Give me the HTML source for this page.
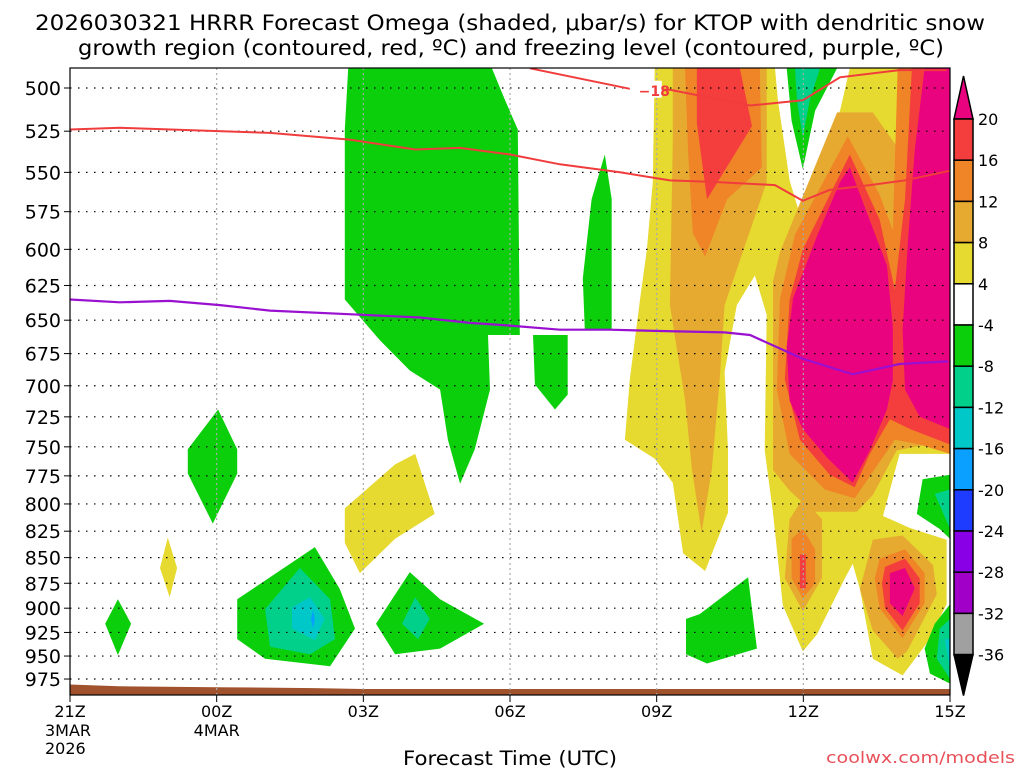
<!DOCTYPE html>
<html><head><meta charset="utf-8">
<style>
html,body{margin:0;padding:0;background:#fff;}
svg{display:block;font-family:"DejaVu Sans","Liberation Sans",sans-serif;}
</style></head>
<body>
<svg id="chart" width="1024" height="768" viewBox="0 0 1024 768">
<text x="35" y="30" font-size="21.5" textLength="950" lengthAdjust="spacingAndGlyphs">2026030321 HRRR Forecast Omega (shaded, μbar/s) for KTOP with dendritic snow</text>
<text x="78" y="55" font-size="21.5" textLength="866" lengthAdjust="spacingAndGlyphs">growth region (contoured, red, ºC) and freezing level (contoured, purple, ºC)</text>
<g id="fills"></g>
<g id="grid"></g>
<g id="lines"></g>
<g id="axes"></g>
<g id="cbar"></g>
<text x="403" y="765" font-size="19.5" textLength="214" lengthAdjust="spacingAndGlyphs">Forecast Time (UTC)</text>
<text x="826" y="763" font-size="16" textLength="189" lengthAdjust="spacingAndGlyphs" fill="#e8505a">coolwx.com/models</text>
</svg>
<script>
// ---- data (time in hours after 21Z, pressure in hPa) ----
const pressureTicks = [500,525,550,575,600,625,650,675,700,725,750,775,800,825,850,875,900,925,950,975];
const timeTicks = [0,3,6,9,12,15,18];
const timeLabels = ["21Z","00Z","03Z","06Z","09Z","12Z","15Z"];
const cbLevels = [20,16,12,8,4,-4,-8,-12,-16,-20,-24,-28,-32,-36];
const cbColors = ["#f43e3e","#ef8527","#e6aa30","#e6d92f","#ffffff","#0ccf0c","#00d08a","#00c8c8","#0aa0ff","#1e3cff","#8a00e6","#a000c8","#a0a0a0"];
const C = {mag:"#ea037f",red:"#f43e3e",org:"#ef8527",lo:"#e6aa30",yel:"#e6d92f",wht:"#ffffff",grn:"#0ccf0c",teal:"#00d08a",cyan:"#00c8c8",lblue:"#0aa0ff"};

const yellowMain = [[11.96,489],[14.42,489],[14.48,507],[14.72,555],[14.93,577],[15.17,555],[15.75,513],[15.95,489],[18,489],[18,756],[16.97,756],[16.63,811],[17.18,822],[17.93,833],[17.93,896],[17.53,936],[17.03,971],[16.42,953],[16.16,881],[16.01,856],[15.85,870],[15.28,927],[14.99,945],[14.58,897],[14.38,808],[14.21,753],[14.25,646],[14.01,618],[13.64,639],[13.39,689],[13.46,753],[13.46,808],[12.99,863],[12.54,846],[12.33,781],[11.96,760],[11.35,744],[11.45,695],[11.66,635],[11.80,600],[11.92,556]];
const yellowSmall = [[2.0,831],[2.19,860],[2.04,889],[1.84,860]];
const yellowMid = [[7.06,756],[7.46,809],[6.65,832],[5.93,865],[5.62,836],[5.62,804],[6.65,765]];
const whiteSliver = [[16.93,501],[17.08,501],[17.06,527],[16.97,529]];
const loLeft = [[12.33,489],[14.25,489],[14.25,556],[13.39,639],[13.29,695],[13.13,769],[12.92,826],[12.72,769],[12.58,711],[12.27,639],[12.33,531]];
const orgLeft = [[12.58,489],[14.11,489],[14.15,547],[13.44,567],[12.99,605],[12.74,589],[12.64,536]];
const redLeft = [[12.82,489],[13.7,489],[13.95,522],[13.03,567],[12.82,520]];
const loRight = [[14.38,622],[14.52,602],[15.69,514],[16.42,514],[16.91,534],[17.03,498],[17.08,489],[18,489],[18,750],[17.79,746],[16.91,753],[16.42,792],[16.09,807],[15.19,807],[14.72,788],[14.38,770]];
const orgRight = [[14.52,635],[14.83,590],[15.91,528],[16.56,564],[16.83,587],[16.93,489],[18,489],[18,756],[17.38,748],[16.87,744],[16.46,769],[16.05,795],[15.44,787],[14.72,756],[14.46,703]];
const redRight = [[14.72,635],[14.99,600],[15.95,539],[16.56,580],[16.87,628],[17.08,567],[17.22,489],[18,489],[18,748],[17.18,735],[16.77,727],[16.36,756],[16.05,785],[15.54,774],[14.93,744],[14.62,695]];
const magBlob = [[15.95,547],[16.71,611],[16.83,655],[16.83,696],[16.71,719],[16.36,753],[16.01,781],[15.48,759],[14.99,735],[14.72,712],[14.66,670],[14.79,634],[15.28,591],[15.75,556]];
const magCol = [[17.48,489],[18,489],[18,735],[17.38,725],[17.08,703],[17.03,657],[17.14,594],[17.28,536]];
const loBump = [[14.72,814],[14.99,795],[15.38,814],[15.38,870],[14.99,903],[14.62,870]];
const orgBump = [[14.76,832],[14.99,823],[15.24,842],[15.24,875],[14.99,890],[14.76,870]];
const redBump = [[14.93,847],[15.05,847],[15.05,880],[14.93,880]];
const loBlob2 = [[16.16,881],[16.42,833],[17.03,829],[17.65,857],[17.73,886],[17.12,945],[16.93,953],[16.42,923]];
const orgBlob2 = [[16.56,851],[17.08,842],[17.48,865],[17.48,895],[17.03,931],[16.56,900],[16.46,870]];
const redBlob2 = [[16.67,859],[17.08,851],[17.38,870],[17.38,895],[17.03,923],[16.67,900],[16.61,875]];
const magBlob2 = [[16.77,865],[17.08,860],[17.28,880],[17.03,908],[16.77,895]];
const greenA = [[5.69,489],[5.62,524],[5.62,635],[6.34,665],[6.95,688],[7.57,703],[7.73,744],[7.98,782],[8.28,752],[8.59,703],[8.55,661],[9.2,661],[9.16,524],[8.9,507],[8.63,489]];
const greenB = [[9.47,661],[10.18,661],[10.18,707],[9.92,719],[9.51,699]];
const greenC = [[10.94,539],[11.08,567],[11.08,657],[10.53,657],[10.49,620],[10.67,567]];
const greenD = [[3.03,719],[3.42,752],[3.42,773],[2.92,818],[2.41,773],[2.41,752]];
const greenE = [[0.98,891],[1.25,916],[0.98,949],[0.72,916]];
const greenF = [[5.01,840],[5.52,881],[5.83,921],[5.32,961],[3.99,953],[3.42,932],[3.42,891]];
const tealF = [[4.70,860],[5.32,891],[5.42,932],[4.91,948],[4.09,940],[3.99,901]];
const cyanF = [[4.91,889],[5.21,911],[5.01,933],[4.54,921],[4.54,899]];
const blueF = [[4.97,902],[5.01,911],[4.97,921],[4.93,911]];
const greenG = [[6.95,864],[7.57,891],[8.47,916],[7.57,942],[6.65,948],[6.26,916]];
const tealG = [[7.06,889],[7.36,911],[7.12,932],[6.79,916]];
const greenH = [[13.87,869],[14.05,942],[13.03,958],[12.6,948],[12.6,911],[12.88,906]];
const greenI = [[14.66,489],[15.69,489],[15.24,513],[14.99,548],[14.76,519]];
const tealI = [[14.83,489],[15.34,489],[15.13,507],[14.99,529],[14.87,507]];
const greenJ = [[17.44,778],[18,774],[18,832],[17.79,823],[17.32,809]];
const tealJ = [[17.69,791],[18,787],[18,823]];
const greenK = [[18,896],[18,980],[17.59,969],[17.48,942],[17.69,916]];
const tealK = [[17.79,921],[18,911],[18,975],[17.73,953]];
const cyanK = [[17.89,932],[18,932],[18,964]];
const terrainT = [0,1,3,5,6,18];
const terrainP = [981,983,984,985,986,986];
const dgzWarmT = [0,1.02,4.09,5.72,7.06,7.98,9.0,10.02,11.25,12.27,13.19,14.42,14.99,15.54,16.36,17.08,18];
const dgzWarmP = [524,523,526,530,536,535,539,545,550,555,556,558,568,561,558,555,549];
const dgzColdT = [9.41,10.84,11.55,12.27,13.91,14.99,15.75,16.97,17.93];
const dgzColdP = [489,497,501,501,510,507,494,490,490];
const frzT = [0,1.02,2.04,3.07,4.09,5.93,7.16,8.18,9.0,10.02,11.04,12.07,13.39,13.91,14.99,16.01,16.97,17.96];
const frzP = [635,637,636,639,643,646,648,652,654,657,657,658,659,661,679,691,683,681];

// ---- axes (log-pressure) ----
const X0=70,X1=950,Y0=68,Y1=695;
function xs(h){return X0+(h/18)*(X1-X0);}
function ys(p){return 88+885*Math.log(p/500);}
const NS="http://www.w3.org/2000/svg";
function mk(tag,attrs,parent){const e=document.createElementNS(NS,tag);for(const k in attrs)e.setAttribute(k,attrs[k]);parent.appendChild(e);return e;}
function ptsStr(a){return a.map(d=>xs(d[0]).toFixed(1)+","+ys(d[1]).toFixed(1)).join(" ");}

const fills=document.getElementById('fills');
mk('rect',{x:X0,y:Y0,width:X1-X0,height:Y1-Y0,fill:'#fff'},fills);
const clip=mk('clipPath',{id:'pc'},fills);
mk('rect',{x:X0,y:Y0,width:X1-X0,height:Y1-Y0},clip);
const fg=mk('g',{'clip-path':'url(#pc)'},fills);
const layers=[
 ['yellow-main',yellowMain,C.yel],['yellow-small',yellowSmall,C.yel],['yellow-mid',yellowMid,C.yel],['white-sliver',whiteSliver,C.wht],
 ['lo-left',loLeft,C.lo],['orange-left',orgLeft,C.org],['red-left',redLeft,C.red],
 ['lo-right',loRight,C.lo],['orange-right',orgRight,C.org],['red-right',redRight,C.red],['magenta-blob',magBlob,C.mag],['magenta-column',magCol,C.mag],
 ['lo-bump',loBump,C.lo],['orange-bump',orgBump,C.org],['red-bump',redBump,C.red],
 ['lo-blob2',loBlob2,C.lo],['orange-blob2',orgBlob2,C.org],['red-blob2',redBlob2,C.red],['magenta-blob2',magBlob2,C.mag],
 ['green-a',greenA,C.grn],['green-b',greenB,C.grn],['green-c',greenC,C.grn],['green-d',greenD,C.grn],['green-e',greenE,C.grn],
 ['green-f',greenF,C.grn],['teal-f',tealF,C.teal],['cyan-f',cyanF,C.cyan],['blue-f',blueF,C.lblue],
 ['green-g',greenG,C.grn],['teal-g',tealG,C.teal],['green-h',greenH,C.grn],['green-i',greenI,C.grn],['teal-i',tealI,C.teal],
 ['green-j',greenJ,C.grn],['teal-j',tealJ,C.teal],['green-k',greenK,C.grn],['teal-k',tealK,C.teal],['cyan-k',cyanK,C.cyan]
];
layers.forEach(l=>{
 const e=mk('polygon',{points:ptsStr(l[1]),fill:l[2]},fg);
 
 
});
let tp=[];terrainT.forEach((t,i)=>tp.push([t,terrainP[i]]));
tp.push([18,1000]);tp.push([0,1000]);
const terr=mk('polygon',{points:ptsStr(tp),fill:'#a0522d'},fg);



// grid
const grid=document.getElementById('grid');
pressureTicks.forEach(p=>{mk('line',{x1:X0,x2:X1,y1:ys(p),y2:ys(p),stroke:'#000','stroke-width':1.2,'stroke-dasharray':'1.5,6.5'},grid);});
timeTicks.slice(1,-1).forEach(t=>{mk('line',{x1:xs(t),x2:xs(t),y1:Y0,y2:Y1,stroke:'#aaa','stroke-width':1.2,'stroke-dasharray':'2,3'},grid);});

// lines
const lines=document.getElementById('lines');
function pl(T,P,col,name,w){
 const e=mk('polyline',{points:ptsStr(T.map((t,i)=>[t,P[i]])),fill:'none',stroke:col,'stroke-width':w,'clip-path':'url(#pc)'},lines);
 
 
}
pl(dgzWarmT,dgzWarmP,'#f03c3c','dgz-minus12-contour',2);
pl(dgzColdT,dgzColdP,'#f03c3c','dgz-minus18-contour',2);
pl(frzT,frzP,'#9a10d0','freezing-level-contour',2.2);
mk('rect',{x:xs(11.45),y:ys(501)-9,width:32,height:17,fill:'#fff'},lines);
const lt=mk('text',{x:xs(11.95),y:ys(501)+6,'font-size':14,'font-weight':'bold',fill:'#f03c3c','text-anchor':'middle'},lines);
lt.textContent='−18';



// axes
const ax=document.getElementById('axes');
mk('rect',{x:X0,y:Y0,width:X1-X0,height:Y1-Y0,fill:'none',stroke:'#000','stroke-width':1.2},ax);
pressureTicks.forEach(p=>{
 mk('line',{x1:X0-6,x2:X0,y1:ys(p),y2:ys(p),stroke:'#000'},ax);
 const t=mk('text',{x:X0-9,y:ys(p)+7,'font-size':19,'text-anchor':'end'},ax);
 t.textContent=p;
 
 
});
timeTicks.forEach((h,i)=>{
 mk('line',{x1:xs(h),x2:xs(h),y1:Y1,y2:Y1+7,stroke:'#000'},ax);
 if(i<timeLabels.length){
  const t=mk('text',{x:xs(h),y:717,'font-size':16,'text-anchor':'middle'},ax);
  t.textContent=timeLabels[i];
  
  
 }
});
[['3MAR',xs(0)-25,736],['2026',xs(0)-25,754],['4MAR',xs(3)-23,736]].forEach(d=>{
 const t=mk('text',{x:d[1],y:d[2],'font-size':16},ax);t.textContent=d[0];
 
 
});

// colorbar
const cb=document.getElementById('cbar');
const CBX=954,CBW=19,CBT=119,CBH=41.2;
mk('polygon',{points:`${CBX},${CBT} ${CBX+CBW},${CBT} ${CBX+CBW/2},76`,fill:C.mag,stroke:'#000','stroke-width':1.5},cb);
cbColors.forEach((c,i)=>{
 const r=mk('rect',{x:CBX,y:CBT+i*CBH,width:CBW,height:CBH,fill:c,stroke:'#000','stroke-width':1.5},cb);
 
 
});
const cbB=CBT+cbColors.length*CBH;
mk('polygon',{points:`${CBX},${cbB} ${CBX+CBW},${cbB} ${CBX+CBW/2},${cbB+41}`,fill:'#000',stroke:'#000','stroke-width':1.5},cb);
cbLevels.forEach((v,i)=>{
 const t=mk('text',{x:CBX+CBW+5,y:CBT+i*CBH+6,'font-size':16},cb);
 t.textContent=v;
 
 
});
</script>
</body></html>
